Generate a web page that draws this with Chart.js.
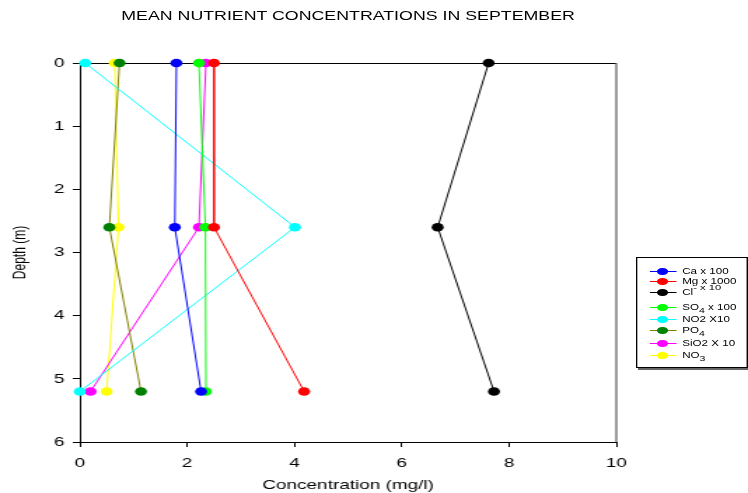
<!DOCTYPE html>
<html>
<head>
<meta charset="utf-8">
<script src="https://cdn.jsdelivr.net/npm/chart.js@4/dist/chart.umd.min.js"></script>
<style>
    body { margin: 0; background: #fff; font-family: "Liberation Sans", Arial, sans-serif; overflow: hidden; }
    /* the original figure is stretched horizontally, so draw narrow and stretch */
    #wrap { position: relative; width: 534px; height: 493px; transform: scaleX(1.4007); transform-origin: 0 0; }
    #title { position: absolute; left: 57px; width: 383px; top: 9px; text-align: center; font-size: 12.7px; color: #000; white-space: nowrap; }
    #legend { position: absolute; left: 454px; top: 257px; width: 78px; height: 109px; border: 1px solid #000;
              box-shadow: 1.5px 2px 0 #666; background: #fff; font-size: 8.3px; }
    .row { position: absolute; left: 0; width: 100%; height: 0; }
    .row .ln { position: absolute; left: 9px; top: 0; width: 19px; height: 1.2px; }
    .row .dot { position: absolute; left: 14px; top: -3.5px; width: 7.5px; height: 7px; border-radius: 50%; }
    .row .tx { position: absolute; left: 32px; top: -5px; white-space: nowrap; line-height: 10px; }
    sub { font-size: 7.5px; vertical-align: -3px; line-height: 0; }
    sup { font-size: 8px; vertical-align: 5px; line-height: 0; }
</style>
</head>
<body>
<div id="wrap">
    <canvas id="c" width="534" height="493"></canvas>
    <div id="title">MEAN NUTRIENT CONCENTRATIONS IN SEPTEMBER</div>
    <div id="legend"></div>
</div>
<script>
// sampling depths (m)
const depths = [0, 2.6, 5.2];

// concentrations (mg/l, scaled as in the legend)
const caValues   = [1.80, 1.77, 2.26];
const mgValues   = [2.50, 2.50, 4.18];
const clValues   = [7.62, 6.67, 7.72];
const so4Values  = [2.22, 2.34, 2.35];
const no2Values  = [0.10, 4.01, 0.00];
const po4Values  = [0.74, 0.55, 1.14];
const sio2Values = [2.35, 2.22, 0.20];
const no3Values  = [0.65, 0.72, 0.50];

const xTicks = [0, 2, 4, 6, 8, 10];
const yTicks = [0, 1, 2, 3, 4, 5, 6];

const series = [
    { label: 'Ca x 100',  html: 'Ca x 100',               values: caValues,   line: '#0000ff', dot: '#0000ff' },
    { label: 'Mg x 1000', html: 'Mg x 1000',              values: mgValues,   line: '#ff0000', dot: '#ff0000' },
    { label: 'Cl- x 10',  html: 'Cl<sup>- x 10</sup>',    values: clValues,   line: '#000000', dot: '#000000' },
    { label: 'SO4 x 100', html: 'SO<sub>4</sub> x 100',   values: so4Values,  line: '#00ff00', dot: '#00ff00' },
    { label: 'NO2 X10',   html: 'NO2 X10',                values: no2Values,  line: '#00ffff', dot: '#00ffff' },
    { label: 'PO4',       html: 'PO<sub>4</sub>',         values: po4Values,  line: '#808000', dot: '#008000' },
    { label: 'SiO2 X 10', html: 'SiO2 X 10',              values: sio2Values, line: '#ff00ff', dot: '#ff00ff' },
    { label: 'NO3',       html: 'NO<sub>3</sub>',         values: no3Values,  line: '#ffff00', dot: '#ffff00' }
];

const datasets = series.map(s => ({
    label: s.label,
    data: depths.map((d, i) => ({ x: s.values[i], y: d })),
    showLine: true,
    clip: false,
    borderColor: s.line,
    borderWidth: 1,
    backgroundColor: s.dot,
    pointBorderColor: s.dot,
    pointBorderWidth: 0,
    pointRadius: 4.3
}));

// plot frame (right edge a bit grey, like the original)
const framePlugin = {
    id: 'frame',
    beforeDatasetsDraw(chart) {
        const a = chart.chartArea;
        const ctx = chart.ctx;
        ctx.save();
        ctx.lineWidth = 1;
        ctx.strokeStyle = '#000';
        ctx.beginPath();
        ctx.moveTo(a.left, a.top + 0.5);
        ctx.lineTo(a.right, a.top + 0.5);
        ctx.stroke();
        ctx.strokeStyle = '#666';
        ctx.lineWidth = 1.3;
        ctx.beginPath();
        ctx.moveTo(a.right, a.top);
        ctx.lineTo(a.right, a.bottom);
        ctx.stroke();
        ctx.restore();
    }
};

const tickFont = { size: 13.5, family: 'Liberation Sans' };

new Chart(document.getElementById('c'), {
    type: 'scatter',
    data: { datasets },
    options: {
        responsive: false,
        animation: false,
        layout: { padding: { left: 0, right: 94, top: 63, bottom: 0 } },
        plugins: { legend: { display: false }, tooltip: { enabled: false } },
        scales: {
            x: {
                min: 0, max: 10,
                afterBuildTicks: ax => { ax.ticks = xTicks.map(v => ({ value: v })); },
                afterFit: ax => { ax.height = 51; },
                grid: { drawOnChartArea: false, color: '#000', tickLength: 5 },
                border: { color: '#000' },
                ticks: { color: '#000', font: tickFont, padding: 8, maxRotation: 0 },
                title: { display: true, text: 'Concentration (mg/l)', color: '#000',
                         font: tickFont, padding: { top: 0, bottom: 0 } }
            },
            y: {
                reverse: true,
                min: 0, max: 6,
                afterBuildTicks: ax => { ax.ticks = yTicks.map(v => ({ value: v })); },
                afterFit: ax => { ax.width = 57; },
                grid: { drawOnChartArea: false, color: '#000', tickLength: 5 },
                border: { color: '#000' },
                ticks: { color: '#000', font: tickFont, padding: 6 },
                title: { display: true, text: 'Depth (m)', color: '#000',
                         font: { size: 12, family: 'Liberation Sans' }, padding: { top: 7, bottom: 0 } }
            }
        }
    },
    plugins: [framePlugin]
});

const legendRows = [13, 23, 34, 49, 61, 72, 85, 97];
const legend = document.getElementById('legend');
series.forEach((s, i) => {
    const row = document.createElement('div');
    row.className = 'row';
    row.style.top = legendRows[i] + 'px';
    row.innerHTML = `<div class="ln" style="background:${s.line}"></div>` +
        `<div class="dot" style="background:${s.dot}"></div>` +
        `<div class="tx">${s.html}</div>`;
    legend.appendChild(row);
});
</script>
</body>
</html>
